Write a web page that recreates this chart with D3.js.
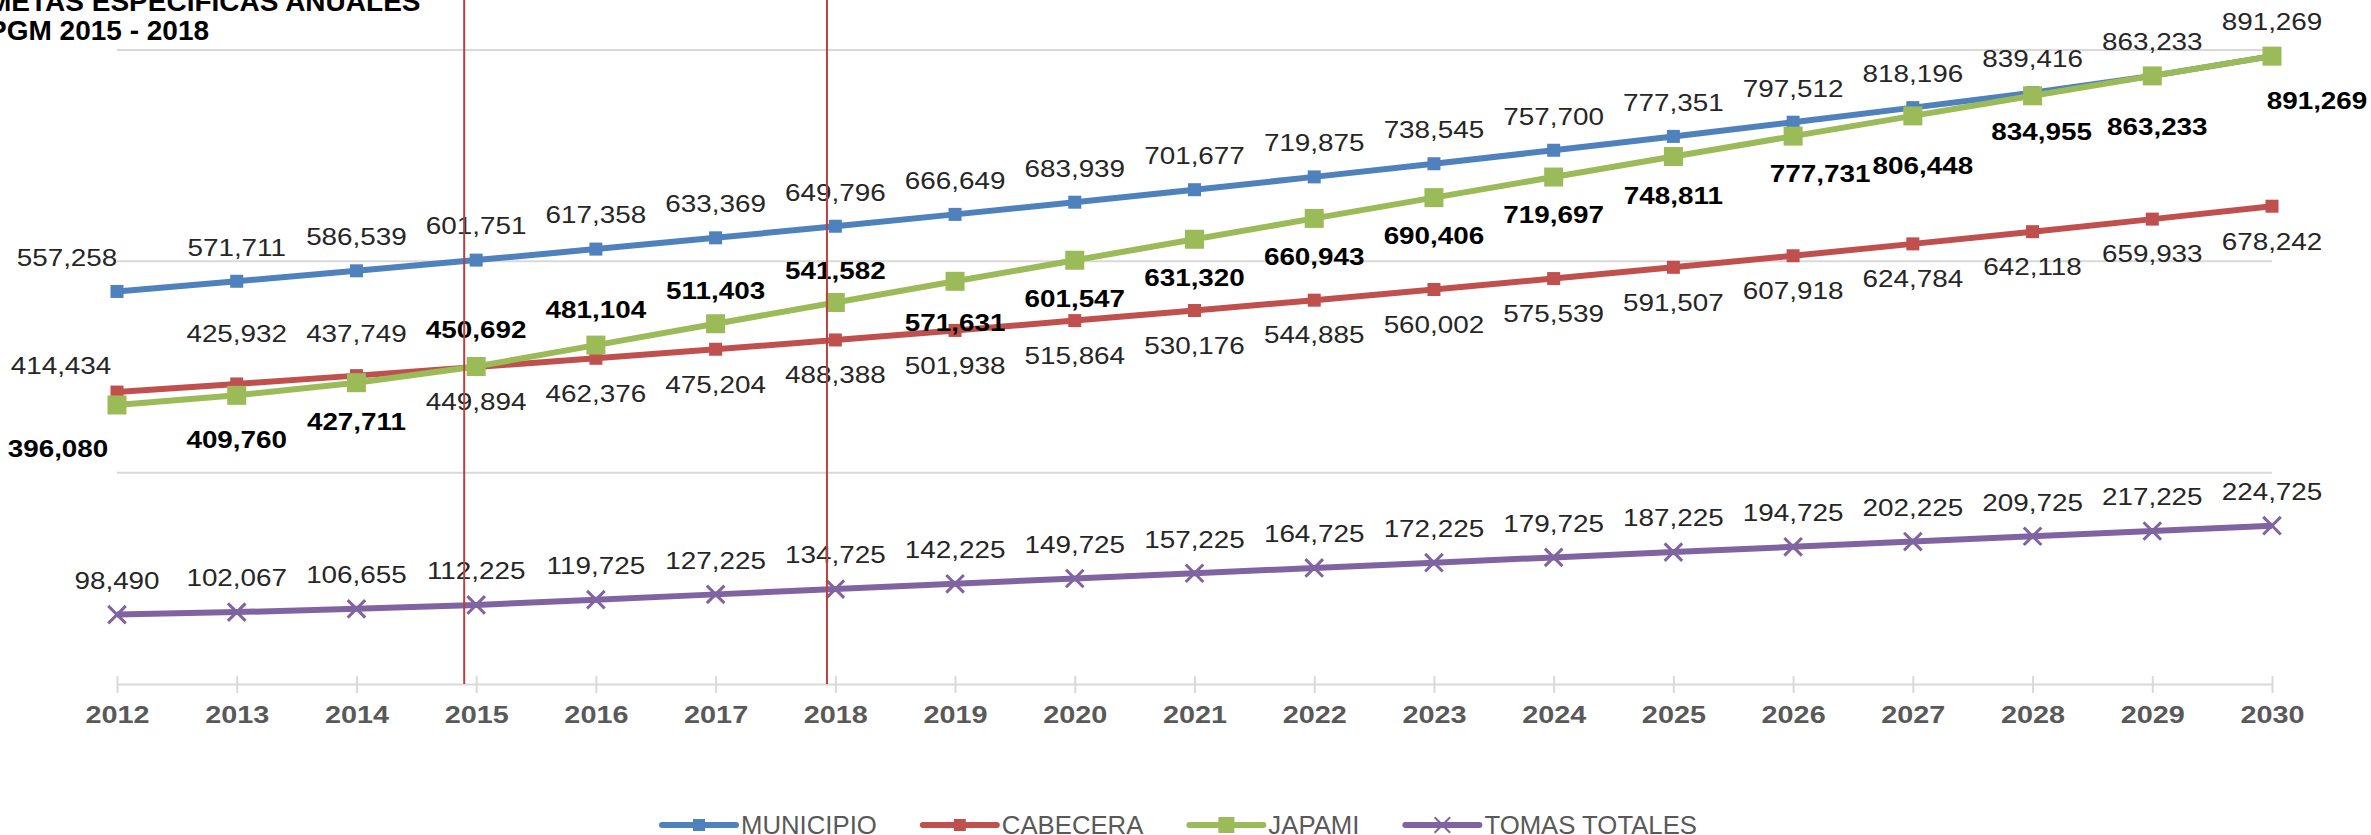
<!DOCTYPE html>
<html>
<head>
<meta charset="utf-8">
<script src="https://cdn.jsdelivr.net/npm/d3@7"></script>
<style>
  body { margin: 0; background: #fff; }
  svg { display: block; font-family: "Liberation Sans", Arial, sans-serif; }
</style>
</head>
<body>
<svg width="2371" height="835"></svg>
<script>
// data
var years = [2012, 2013, 2014, 2015, 2016, 2017, 2018, 2019, 2020, 2021, 2022, 2023, 2024, 2025, 2026, 2027, 2028, 2029, 2030];
var municipio = [557258, 571711, 586539, 601751, 617358, 633369, 649796, 666649, 683939, 701677, 719875, 738545, 757700, 777351, 797512, 818196, 839416, 863233, 891269];
var cabecera = [414434, 425932, 437749, 449894, 462376, 475204, 488388, 501938, 515864, 530176, 544885, 560002, 575539, 591507, 607918, 624784, 642118, 659933, 678242];
var japami = [396080, 409760, 427711, 450692, 481104, 511403, 541582, 571631, 601547, 631320, 660943, 690406, 719697, 748811, 777731, 806448, 834955, 863233, 891269];
var tomas = [98490, 102067, 106655, 112225, 119725, 127225, 134725, 142225, 149725, 157225, 164725, 172225, 179725, 187225, 194725, 202225, 209725, 217225, 224725];
var gridValues = [0, 300000, 600000, 900000];
// the two red marks sit just left of 2015 and 2018
var markYears = [2014.9, 2017.93];
var titleLines = ["METAS ESPECIFICAS ANUALES", "PGM 2015 - 2018"];

// label placement (dx, dy from the point), set by hand like in the original
var labMun = years.map(function(y, i) { return [i == 0 ? -50 : 0, -34]; });
var labCab = [[-56, -26], [0, -50], [0, -42]].concat(years.slice(3).map(function() { return [0, 35]; }));
var labJap = [[-59, 44], [0, 44], [0, 39], [0, -37], [0, -35], [0, -33], [0, -32],
              [0, 41], [0, 38], [0, 38], [0, 38], [0, 38], [0, 38], [0, 39],
              [27, 38], [10, 50], [9, 36], [5, 51], [45, 45]];
var labTom = years.map(function() { return [0, -34]; });

var series = [
  {name: "MUNICIPIO", values: municipio, color: "#4F81BD", marker: "square", size: 13, bold: false, lab: labMun},
  {name: "CABECERA", values: cabecera, color: "#C0504D", marker: "square", size: 13, bold: false, lab: labCab},
  {name: "JAPAMI", values: japami, color: "#9BBB59", marker: "square", size: 19, bold: true, lab: labJap},
  {name: "TOMAS TOTALES", values: tomas, color: "#8064A2", marker: "x", size: 13, bold: false, lab: labTom}
];

var svg = d3.select("svg");
var x = d3.scalePoint().domain(years).range([117, 2272]);
var xLin = d3.scaleLinear().domain([years[0], years[years.length - 1]]).range(x.range());
var y = d3.scaleLinear().domain([0, 900000]).range([684, 50]);
var fmt = d3.format(",");
var stretch = 1.16; // the text in the picture is a bit wide

// gridlines
svg.append("g").selectAll("line")
  .data(gridValues.slice(1))
  .enter().append("line")
  .attr("x1", x.range()[0]).attr("x2", x.range()[1])
  .attr("y1", function(d) { return y(d); }).attr("y2", function(d) { return y(d); })
  .attr("stroke", "#D9D9D9").attr("stroke-width", 2);

// x axis
var xAxis = svg.append("g")
  .attr("transform", "translate(0," + y(0) + ")")
  .call(d3.axisBottom(x).tickSize(0).tickPadding(0).tickFormat(""));
xAxis.select(".domain").attr("stroke", "#D9D9D9").attr("stroke-width", 2);
xAxis.selectAll(".tick").append("line")
  .attr("y1", -8).attr("y2", 9)
  .attr("stroke", "#D9D9D9").attr("stroke-width", 2);
xAxis.selectAll(".tick").append("g")
  .attr("transform", "translate(0,31) scale(" + (stretch + 0.04) + ",1)")
  .append("text")
  .attr("text-anchor", "middle")
  .attr("dominant-baseline", "central")
  .attr("font-size", 24).attr("font-weight", "bold")
  .attr("fill", "#595959")
  .text(function(d) { return d; });

// lines and markers
var line = d3.line()
  .x(function(d, i) { return x(years[i]); })
  .y(function(d) { return y(d); });

series.forEach(function(s) {
  svg.append("path")
    .datum(s.values)
    .attr("fill", "none")
    .attr("stroke", s.color)
    .attr("stroke-width", 6)
    .attr("stroke-linejoin", "round")
    .attr("d", line);

  var m = svg.append("g").selectAll("g")
    .data(s.values)
    .enter().append("g")
    .attr("transform", function(d, i) { return "translate(" + x(years[i]) + "," + y(d) + ")"; });
  if (s.marker == "square") {
    m.append("rect")
      .attr("x", -s.size / 2).attr("y", -s.size / 2)
      .attr("width", s.size).attr("height", s.size)
      .attr("fill", s.color);
  } else {
    m.append("path")
      .attr("d", d3.symbol(d3.symbolX, s.size * s.size * 1.2)())
      .attr("stroke", s.color).attr("stroke-width", 3).attr("fill", "none");
  }
});

// data labels
series.forEach(function(s) {
  svg.append("g").selectAll("g")
    .data(s.values)
    .enter().append("g")
    .attr("transform", function(d, i) {
      return "translate(" + (x(years[i]) + s.lab[i][0]) + "," + (y(d) + s.lab[i][1]) + ") scale(" + stretch + ",1)";
    })
    .append("text")
    .attr("text-anchor", "middle")
    .attr("dominant-baseline", "central")
    .attr("font-size", 24)
    .attr("font-weight", s.bold ? "bold" : "normal")
    .attr("fill", s.bold ? "#000" : "#262626")
    .text(function(d) { return fmt(d); });
});

// red marks for the PGM period
svg.append("g").selectAll("line")
  .data(markYears)
  .enter().append("line")
  .attr("x1", function(d) { return xLin(d); }).attr("x2", function(d) { return xLin(d); })
  .attr("y1", 0).attr("y2", y(0))
  .attr("stroke", "#B8423F").attr("stroke-width", 2);

// title
svg.append("text")
  .attr("y", 11)
  .attr("font-size", 28).attr("font-weight", "bold")
  .attr("fill", "#000")
  .selectAll("tspan")
  .data(titleLines)
  .enter().append("tspan")
  .attr("x", -12)
  .attr("dy", function(d, i) { return i == 0 ? 0 : 29; })
  .text(function(d) { return d; });

// legend, items one after the other
var legend = svg.append("g").attr("transform", "translate(662,825)");
var lx = 0;
series.forEach(function(s) {
  var item = legend.append("g").attr("transform", "translate(" + lx + ",0)");
  item.append("line")
    .attr("x1", 0).attr("x2", 74)
    .attr("stroke", s.color).attr("stroke-width", 6).attr("stroke-linecap", "round");
  if (s.marker == "square") {
    var sz = s.name == "JAPAMI" ? 16 : 12;
    item.append("rect")
      .attr("x", 37 - sz / 2).attr("y", -sz / 2)
      .attr("width", sz).attr("height", sz)
      .attr("fill", s.color);
  } else {
    item.append("path")
      .attr("transform", "translate(37,0)")
      .attr("d", d3.symbol(d3.symbolX, 160)())
      .attr("stroke", s.color).attr("stroke-width", 2).attr("fill", "none");
  }
  var t = item.append("g")
    .attr("transform", "translate(79,0) scale(1.03,1)")
    .append("text")
    .attr("dominant-baseline", "central")
    .attr("font-size", 25)
    .attr("fill", "#595959")
    .text(s.name);
  lx += 79 + t.node().getComputedTextLength() * 1.03 + 46;
});
</script>
</body>
</html>
